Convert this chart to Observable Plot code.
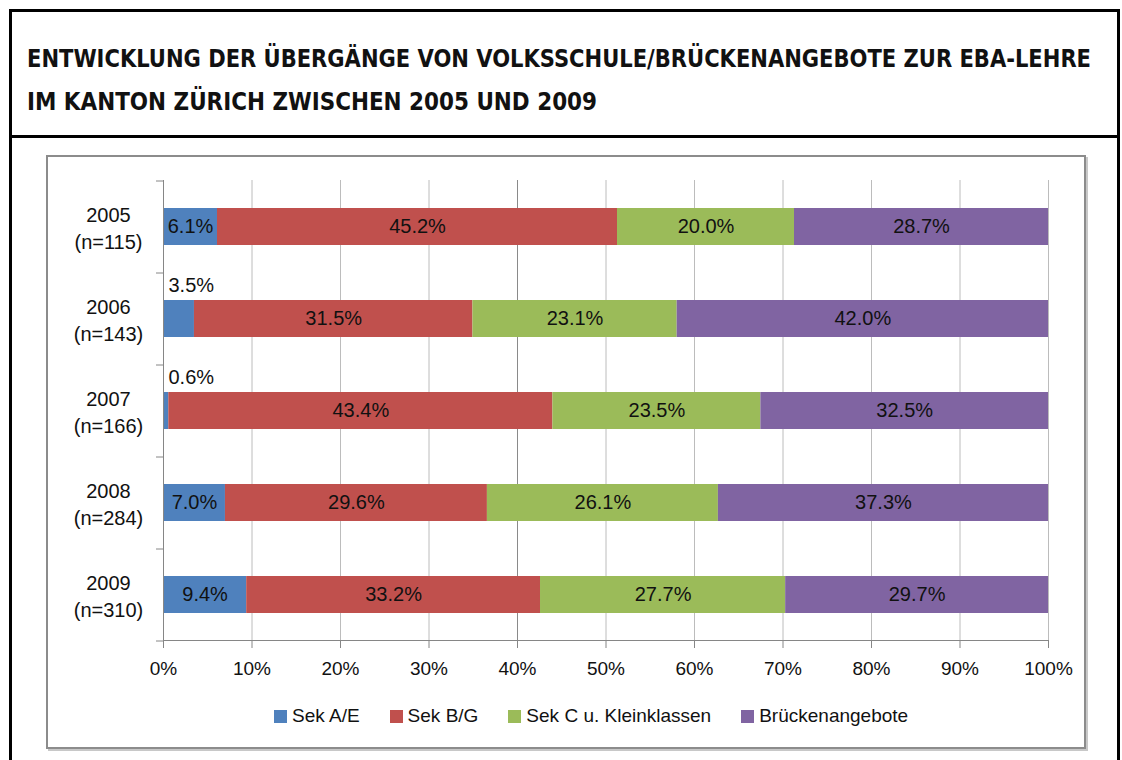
<!DOCTYPE html>
<html><head><meta charset="utf-8">
<script src="https://cdn.jsdelivr.net/npm/d3@7"></script>
<script src="https://cdn.jsdelivr.net/npm/@observablehq/plot@0.6"></script>
<style>
html,body{margin:0;padding:0;background:#fff;}
#page{position:relative;width:1122px;height:760px;overflow:hidden;font-family:"Liberation Sans",Arial,sans-serif;background:#fff;}
.abs{position:absolute;}
#legend{position:absolute;left:274px;top:705px;display:flex;align-items:center;gap:30px;font-size:19px;color:#111;}
#legend .item{display:flex;align-items:center;gap:5px;}
#legend .sw{width:13px;height:13px;display:inline-block;}
</style></head><body><div id="page"></div>
<script>
// ---- data ----
const years = ["2005", "2006", "2007", "2008", "2009"];
const counts = [115, 143, 166, 284, 310];
const series = ["Sek A/E", "Sek B/G", "Sek C u. Kleinklassen", "Brückenangebote"];
const colors = ["#4F81BD", "#C0504D", "#9BBB59", "#8064A2"];
const sekAE = [6.1, 3.5, 0.6, 7.0, 9.4];
const sekBG = [45.2, 31.5, 43.4, 29.6, 33.2];
const sekC = [20.0, 23.1, 23.5, 26.1, 27.7];
const bruecke = [28.7, 42.0, 32.5, 37.3, 29.7];
const xTicks = [0, 0.1, 0.2, 0.3, 0.4, 0.5, 0.6, 0.7, 0.8, 0.9, 1];
const emphasisTicks = [0.4];
const titleLines = [
  "ENTWICKLUNG DER ÜBERGÄNGE VON VOLKSSCHULE/BRÜCKENANGEBOTE ZUR EBA-LEHRE",
  "IM KANTON ZÜRICH ZWISCHEN 2005 UND 2009"
];

const seriesValues = [sekAE, sekBG, sekC, bruecke];
const data = [];
years.forEach((y, i) => {
  series.forEach((s, j) => data.push({year: y, series: s, value: seriesValues[j][i]}));
});
const fmt = v => v.toFixed(1) + "%";
const smallThreshold = 5;

const page = document.getElementById("page");

// frames
const outer = document.createElement("div");
outer.className = "abs";
Object.assign(outer.style, {left: "9px", top: "9px", width: "1105px", height: "800px", border: "3px solid #000"});
page.appendChild(outer);
const divider = document.createElement("div");
divider.className = "abs";
Object.assign(divider.style, {left: "9px", top: "135px", width: "1111px", height: "3px", background: "#000"});
page.appendChild(divider);
const inner = document.createElement("div");
inner.className = "abs";
Object.assign(inner.style, {left: "46px", top: "155px", width: "1036px", height: "590px", border: "2px solid #8c8c8c", boxShadow: "2px 2px 0 #c8c8c8"});
page.appendChild(inner);

// title
const ns = "http://www.w3.org/2000/svg";
const tsvg = document.createElementNS(ns, "svg");
tsvg.setAttribute("width", 1122); tsvg.setAttribute("height", 135);
tsvg.setAttribute("class", "abs"); tsvg.style.left = "0px"; tsvg.style.top = "0px";
const tl = [[67, 1064], [110, 570]];
titleLines.forEach((t, i) => {
  const el = document.createElementNS(ns, "text");
  el.setAttribute("x", 27); el.setAttribute("y", tl[i][0]);
  el.setAttribute("textLength", tl[i][1]); el.setAttribute("lengthAdjust", "spacingAndGlyphs");
  el.setAttribute("font-family", "DejaVu Sans Condensed, DejaVu Sans, sans-serif");
  el.setAttribute("font-weight", "bold"); el.setAttribute("font-size", "24");
  el.setAttribute("fill", "#111");
  el.textContent = t;
  tsvg.appendChild(el);
});
page.appendChild(tsvg);

// chart
const chart = Plot.plot({
  width: 1122, height: 760,
  marginLeft: 163, marginRight: 74, marginTop: 180, marginBottom: 120,
  style: {background: "transparent", fontFamily: "Liberation Sans, Arial, sans-serif", fontSize: "20px", color: "#111", overflow: "visible"},
  x: {domain: [0, 1]},
  y: {domain: years, paddingInner: 0.6, paddingOuter: 0.3},
  color: {domain: series, range: colors},
  marks: [
    Plot.gridX(xTicks, {stroke: "#bcbcbc", strokeOpacity: 1}),
    Plot.gridX(emphasisTicks, {stroke: "#8a8a8a", strokeOpacity: 1}),
    Plot.barX(data, Plot.stackX({offset: "normalize", x: "value", y: "year", fill: "series"})),
    Plot.text(data, Plot.stackX({offset: "normalize", x: "value", y: "year", z: "series",
      text: d => d.value >= smallThreshold ? fmt(d.value) : "", fill: "#111", fontSize: 20})),
    Plot.text(data.filter(d => d.series === series[0] && d.value < smallThreshold),
      {x: 0, y: "year", text: d => fmt(d.value), textAnchor: "start", dx: 5, dy: -33, fill: "#111", fontSize: 20}),
    Plot.ruleX([0], {stroke: "#868686"}),
    Plot.axisY({tickSize: 0, tickPadding: 55, textAnchor: "middle", lineHeight: 1.35, fontSize: 20, fill: "#111",
      tickFormat: d => `${d}\n(n=${counts[years.indexOf(d)]})`, label: null}),
    Plot.axisY({tickSize: 7, tickFormat: () => "", dy: -46, stroke: "#868686", label: null}),
    Plot.axisY([years[years.length - 1]], {tickSize: 7, tickFormat: () => "", dy: 46, stroke: "#868686", label: null}),
    Plot.frame({anchor: "bottom", stroke: "#868686"}),
    Plot.axisX({ticks: xTicks, tickSize: 8, tickPadding: 13, stroke: "#868686", fill: "#111", fontSize: 19,
      tickFormat: d3.format(".0%"), label: null})
  ]
});
chart.classList.add("abs");
chart.style.left = "0px"; chart.style.top = "0px";
page.appendChild(chart);

// legend
const legend = document.createElement("div");
legend.id = "legend";
series.forEach((s, i) => {
  const it = document.createElement("div"); it.className = "item";
  const sw = document.createElement("span"); sw.className = "sw"; sw.style.background = colors[i];
  const lb = document.createElement("span"); lb.textContent = s;
  it.appendChild(sw); it.appendChild(lb); legend.appendChild(it);
});
page.appendChild(legend);
</script></body></html>
